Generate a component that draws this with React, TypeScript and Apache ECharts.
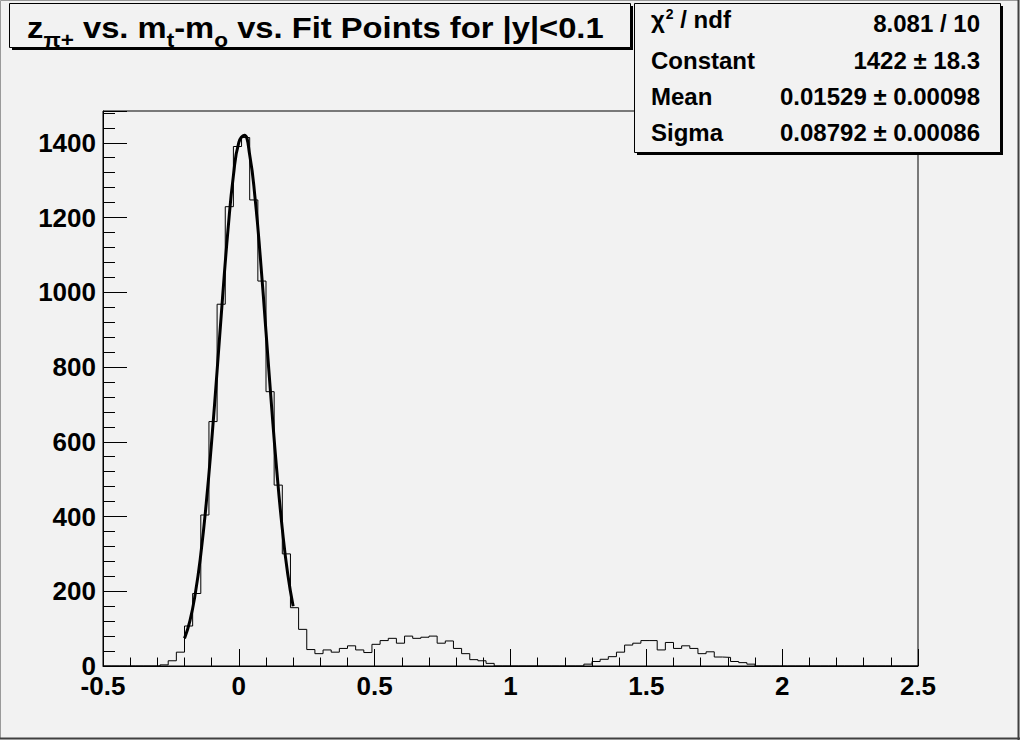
import React, { useEffect, useRef } from "react";
import * as echarts from "echarts";

// ---- histogram: 100 bins from -0.5 to 2.5 ----
const histMin = -0.5;
const histMax = 2.5;
const binCounts = [
  0, 0, 0, 0, 0, 0, 0, 3, 14, 37,
  107, 194, 404, 654, 968, 1229, 1390, 1414, 1247, 1030,
  734, 484, 300, 156, 98, 44, 33, 43, 37, 47,
  54, 43, 36, 58, 68, 74, 61, 80, 74, 77,
  80, 61, 67, 47, 33, 17, 14, 7, 0, 0,
  0, 0, 0, 0, 0, 0, 0, 0, 0, 5,
  12, 18, 25, 37, 56, 61, 68, 68, 43, 63,
  47, 54, 47, 33, 38, 24, 23, 12, 9, 5,
  0, 0, 0, 0, 0, 0, 0, 0, 0, 0,
  0, 0, 0, 0, 0, 0, 0, 0, 0, 0,
];

// ---- gaussian fit curve (fit range -0.2 .. 0.2) ----
const fitX = [-0.2, -0.18, -0.16, -0.14, -0.12, -0.1, -0.08, -0.06, -0.04, -0.02, 0, 0.02, 0.04, 0.06, 0.08, 0.1, 0.12, 0.14, 0.16, 0.18, 0.2];
const fitY = [74, 121, 195, 299, 435, 602, 790, 985, 1166, 1312, 1401, 1420, 1367, 1250, 1085, 894, 700, 520, 367, 246, 160];

// ---- axes ----
const xMin = -0.5;
const xMax = 2.5;
const xStep = 0.5;
const xMinorSplit = 5;
const yMax = 1485;
const yMajorStep = 200;
const yMinorStep = 40;

// ---- texts ----
const titlePieces = [
  { text: "z", sub: false, gap: false },
  { text: "π+", sub: true, gap: false },
  { text: "vs. m", sub: false, gap: true },
  { text: "t", sub: true, gap: false },
  { text: "-m", sub: false, gap: false },
  { text: "o", sub: true, gap: false },
  { text: "vs. Fit Points for |y|<0.1", sub: false, gap: true },
];
const statsLabels = ["Constant", "Mean", "Sigma"];
const statsValues = ["8.081 / 10", "1422 ± 18.3", "0.01529 ± 0.00098", "0.08792 ± 0.00086"];

const BG = "#f2f2f2";
const FAMILY = '"Liberation Sans", Arial, Helvetica, sans-serif';

function measure(text: string, size: number): number {
  const c = document.createElement("canvas").getContext("2d");
  if (!c) return text.length * size * 0.55;
  c.font = `bold ${size}px "Liberation Sans", Arial, sans-serif`;
  return c.measureText(text).width;
}

export default function App() {
  const ref = useRef<HTMLDivElement>(null);

  useEffect(() => {
    document.body.style.margin = "0";
    const chart = echarts.init(ref.current!, null, { renderer: "svg", width: 1020, height: 740 });

    const w = (histMax - histMin) / binCounts.length;
    const histData: number[][] = [];
    binCounts.forEach((c, i) => {
      const lo = +(histMin + i * w).toFixed(6);
      const hi = +(histMin + (i + 1) * w).toFixed(6);
      histData.push([lo, c], [hi, c]);
    });
    const fitData = fitX.map((x, i) => [x, fitY[i]]);

    // title pieces laid out sequentially
    const mainSize = 29;
    const subSize = 20;
    const titleChildren: any[] = [];
    let cx = 0;
    const spaceW = measure(" ", mainSize);
    titlePieces.forEach((p) => {
      if (p.gap) cx += spaceW;
      const size = p.sub ? subSize : mainSize;
      titleChildren.push({
        type: "text",
        x: cx,
        y: p.sub ? 40.5 : 28.6,
        z: 102,
        style: {
          text: p.text,
          font: `bold ${size}px ${FAMILY}`,
          fill: "#000",
          textAlign: "left",
          textVerticalAlign: "middle",
        },
      });
      cx += measure(p.text, size);
    });
    const titleWidth = 577;
    const titleScale = titleWidth / cx;

    const statFont = `bold 24px ${FAMILY}`;
    const rowY = [60, 96, 132];
    const chiW = measure("χ", 24);
    const twoX = 651 + chiW + 1;
    const ndfX = twoX + measure("2", 14) + measure(" ", 24);

    const graphic: any[] = [
      // canvas border
      { type: "rect", z: 100, shape: { x: 0.5, y: 0.5, width: 1018, height: 738 }, style: { fill: "none", stroke: "#9a9a9a", lineWidth: 1 } },
      { type: "line", z: 100, shape: { x1: 1018.5, y1: 0, x2: 1018.5, y2: 740 }, style: { stroke: "#404040", lineWidth: 2 } },
      { type: "line", z: 100, shape: { x1: 0, y1: 738.5, x2: 1020, y2: 738.5 }, style: { stroke: "#404040", lineWidth: 2 } },
      // title box
      { type: "rect", z: 100, shape: { x: 12, y: 6, width: 621, height: 44 }, style: { fill: "#000" } },
      { type: "rect", z: 101, shape: { x: 9.5, y: 3.5, width: 621, height: 44 }, style: { fill: BG, stroke: "#000", lineWidth: 1 } },
      { type: "group", z: 102, x: 27, y: 0, scaleX: titleScale, scaleY: 1, children: titleChildren },
      // stats box
      { type: "rect", z: 100, shape: { x: 637, y: 6, width: 366, height: 149 }, style: { fill: "#000" } },
      { type: "rect", z: 101, shape: { x: 634.5, y: 3.5, width: 366, height: 149 }, style: { fill: BG, stroke: "#000", lineWidth: 1 } },
      { type: "text", z: 102, x: 651, y: 19, style: { text: "χ", font: `bold 24px ${FAMILY}`, fill: "#000", textAlign: "left", textVerticalAlign: "middle" } },
      { type: "text", z: 102, x: twoX, y: 14, style: { text: "2", font: `bold 14px ${FAMILY}`, fill: "#000", textAlign: "left", textVerticalAlign: "middle" } },
      { type: "text", z: 102, x: ndfX, y: 19, style: { text: "/ ndf", font: statFont, fill: "#000", textAlign: "left", textVerticalAlign: "middle" } },
      { type: "text", z: 102, x: 980, y: 23.5, style: { text: statsValues[0], font: statFont, fill: "#000", textAlign: "right", textVerticalAlign: "middle" } },
    ];
    statsLabels.forEach((lab, i) => {
      graphic.push({ type: "text", z: 102, x: 651, y: rowY[i], style: { text: lab, font: statFont, fill: "#000", textAlign: "left", textVerticalAlign: "middle" } });
      graphic.push({ type: "text", z: 102, x: 980, y: rowY[i], style: { text: statsValues[i + 1], font: statFont, fill: "#000", textAlign: "right", textVerticalAlign: "middle" } });
    });

    const labelStyle = { color: "#000", fontSize: 26, fontWeight: "bold" as const, fontFamily: FAMILY };

    chart.setOption({
      animation: false,
      backgroundColor: BG,
      grid: { left: 103, right: 102, top: 111, bottom: 74, show: true, borderColor: "#000", borderWidth: 1, backgroundColor: "transparent", containLabel: false },
      xAxis: {
        type: "value",
        min: xMin,
        max: xMax,
        interval: xStep,
        axisLine: { show: true, onZero: false, lineStyle: { color: "#000", width: 1 } },
        axisTick: { show: true, inside: true, length: 17, lineStyle: { color: "#000", width: 1 } },
        minorTick: { show: true, splitNumber: xMinorSplit, length: 8.5, lineStyle: { color: "#000", width: 1 } },
        splitLine: { show: false },
        minorSplitLine: { show: false },
        axisLabel: { ...labelStyle, margin: 7 },
      },
      yAxis: [
        {
          // minor ticks every 40, labels at multiples of 200
          type: "value",
          min: 0,
          max: yMax,
          interval: yMinorStep,
          position: "left",
          offset: 0,
          axisLine: { show: true, onZero: false, lineStyle: { color: "#000", width: 1 } },
          axisTick: { show: true, inside: true, length: 12, lineStyle: { color: "#000", width: 1 } },
          axisLabel: {
            ...labelStyle,
            margin: 7,
            showMaxLabel: false,
            formatter: (v: number) => (Math.round(v) % yMajorStep === 0 ? String(Math.round(v)) : ""),
          },
          splitLine: { show: false },
        },
        {
          // major ticks every 200
          type: "value",
          min: 0,
          max: yMax,
          interval: yMajorStep,
          position: "left",
          offset: 0,
          axisLine: { show: false, onZero: false },
          axisTick: { show: true, inside: true, length: 24, lineStyle: { color: "#000", width: 1 } },
          axisLabel: { show: false },
          splitLine: { show: false },
        },
      ],
      series: [
        {
          type: "line",
          data: histData,
          showSymbol: false,
          symbol: "none",
          silent: true,
          lineStyle: { color: "#000", width: 1 },
          z: 2,
        },
        {
          type: "line",
          data: fitData,
          showSymbol: false,
          symbol: "none",
          smooth: true,
          silent: true,
          lineStyle: { color: "#000", width: 3 },
          z: 3,
        },
      ],
      graphic,
    });

    return () => chart.dispose();
  }, []);

  return <div ref={ref} style={{ width: 1020, height: 740 }} />;
}
